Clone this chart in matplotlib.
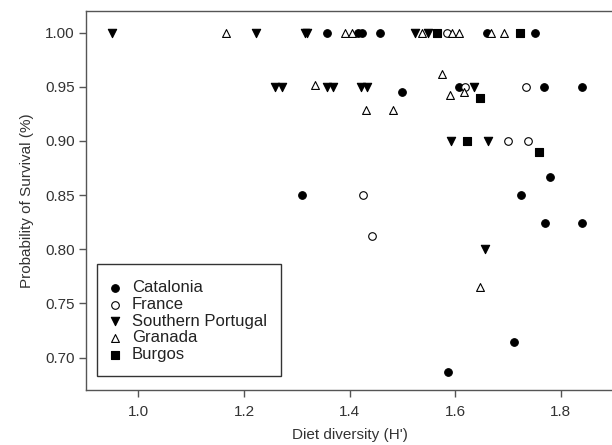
import matplotlib
matplotlib.use("Agg")
import matplotlib.pyplot as plt
from matplotlib.patches import Rectangle

plt.rcParams['font.family'] = ['Liberation Sans', 'DejaVu Sans']

# Data: (diet diversity H', probability of survival)
cat_x = [1.358, 1.416, 1.424, 1.458, 1.661, 1.751, 1.500, 1.608, 1.768, 1.841,
         1.780, 1.309, 1.725, 1.770, 1.840, 1.712, 1.586]
cat_y = [1.00, 1.00, 1.00, 1.00, 1.00, 1.00, 0.945, 0.95, 0.95, 0.95,
         0.867, 0.85, 0.85, 0.824, 0.824, 0.714, 0.687]

fra_x = [1.585, 1.618, 1.734, 1.700, 1.737, 1.426, 1.442]
fra_y = [1.00, 0.95, 0.95, 0.90, 0.90, 0.85, 0.812]

por_x = [0.949, 1.222, 1.316, 1.320, 1.524, 1.548,
         1.259, 1.272, 1.357, 1.369, 1.422, 1.433, 1.635,
         1.592, 1.663, 1.657]
por_y = [1.00, 1.00, 1.00, 1.00, 1.00, 1.00,
         0.95, 0.95, 0.95, 0.95, 0.95, 0.95, 0.95,
         0.90, 0.90, 0.80]

gra_x = [1.165, 1.392, 1.405, 1.537, 1.594, 1.608, 1.668, 1.693,
         1.335, 1.575, 1.591, 1.616, 1.431, 1.483, 1.646]
gra_y = [1.00, 1.00, 1.00, 1.00, 1.00, 1.00, 1.00, 1.00,
         0.952, 0.962, 0.942, 0.945, 0.929, 0.929, 0.765]

bur_x = [1.565, 1.723, 1.647, 1.622, 1.759]
bur_y = [1.00, 1.00, 0.940, 0.90, 0.890]

x_ticks = [1.0, 1.2, 1.4, 1.6, 1.8]
y_ticks = [0.70, 0.75, 0.80, 0.85, 0.90, 0.95, 1.00]

fig = plt.figure(figsize=(6.12, 4.45), dpi=100)
ax = fig.add_axes([0.140, 0.1236, 0.8626, 0.8517])

gray = '#555555'
ax.scatter(cat_x, cat_y, marker='o', s=30, facecolor='black', edgecolor='black', linewidth=0.8, label='Catalonia', zorder=3)
ax.scatter(fra_x, fra_y, marker='o', s=30, facecolor='white', edgecolor='black', linewidth=0.8, label='France', zorder=3)
ax.scatter(por_x, por_y, marker='v', s=36, facecolor='black', edgecolor='black', linewidth=0.8, label='Southern Portugal', zorder=3)
ax.scatter(gra_x, gra_y, marker='^', s=32, facecolor='white', edgecolor='black', linewidth=0.8, label='Granada', zorder=3)
ax.scatter(bur_x, bur_y, marker='s', s=26, facecolor='black', edgecolor='black', linewidth=0.8, label='Burgos', zorder=3)

ax.set_xlim(0.9, 1.9)
ax.set_ylim(0.67, 1.02)
ax.set_xticks(x_ticks)
ax.set_xticklabels([f"{v:.1f}" for v in x_ticks])
ax.set_yticks(y_ticks)
ax.set_yticklabels([f"{v:.2f}" for v in y_ticks])

for s in ax.spines.values():
    s.set_color(gray)
    s.set_linewidth(1.0)
ax.spines['right'].set_visible(False)

ax.tick_params(direction='out', length=5, width=1.0, color=gray, labelsize=11, labelcolor='#333333')
ax.tick_params(axis='x', pad=6)
ax.tick_params(axis='y', pad=3)
ax.set_xlabel("Diet diversity (H')", fontsize=11, color='#333333', labelpad=6)
ax.set_ylabel("Probability of Survival (%)", fontsize=11, color='#333333', labelpad=8)

# legend frame
x0 = (97 - 85.7) / 527.9
y0 = (390 - 376) / 379.0
w = (281 - 97) / 527.9
h = (376 - 264) / 379.0
ax.add_patch(Rectangle((x0, y0), w, h, transform=ax.transAxes, facecolor='white',
                       edgecolor='#333333', linewidth=1.0, zorder=4))
leg = ax.legend(loc='lower left', bbox_to_anchor=(x0 + 0.008, y0 + 0.024), borderaxespad=0,
                frameon=False, fontsize=12, handletextpad=0.45, labelspacing=0.1,
                handlelength=1.1, borderpad=0.3)
leg.set_zorder(5)
for t in leg.get_texts():
    t.set_color('#222222')

fig.savefig('out.png', dpi=100)
